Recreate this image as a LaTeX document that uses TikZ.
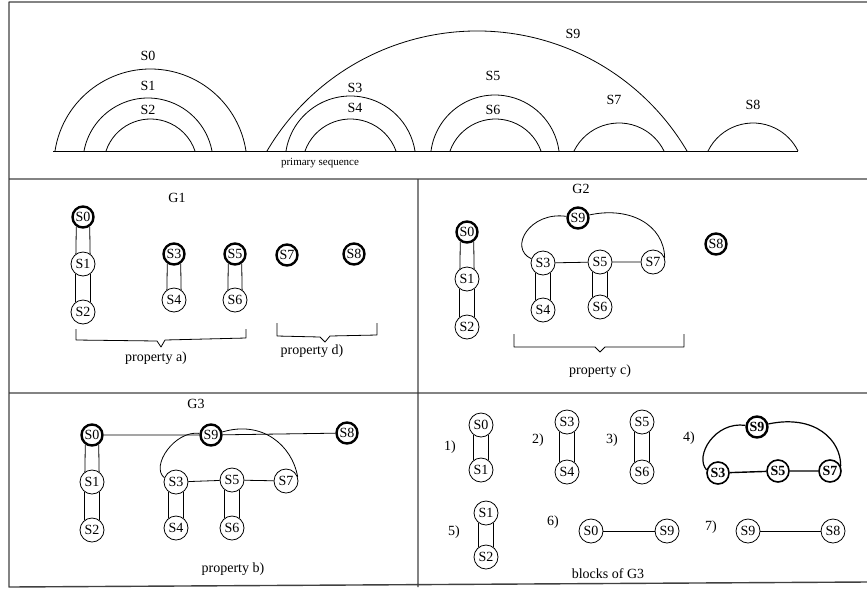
\documentclass[tikz,border=0pt]{standalone}
\usepackage{fontspec}
\setmainfont{Liberation Serif}
% two parallel strokes between two stacked nodes
\newcommand\twin[2]{\draw (#1.235) -- (#2.125) (#1.305) -- (#2.55);}
\begin{document}
\begin{tikzpicture}[x=1pt,y=-1pt,line join=round,line width=0.8pt,font=\fontsize{14}{16}\selectfont,
  st/.style={circle,draw,inner sep=0pt,minimum size=24pt},
  hub/.style={st,minimum size=21pt,line width=2.4pt},
  mid/.style={st,minimum size=22pt,line width=1.6pt,font=\fontsize{14}{16}\selectfont\bfseries}]
\useasboundingbox (0,0) rectangle (867,590);
% frame
\draw[line width=1.4pt,black!75] (867,2) -- (9,2) -- (9,587) -- (867,582)
  (9,179) -- (867,179) (9,393) -- (867,393) (418,179) -- (418,587);
% primary sequence
\draw (53,151) -- (798,151);
\node[font=\fontsize{11}{13}\selectfont] (seq) at (320,163) {primary sequence};
\foreach \cx/\a/\h/\lbl/\lx/\ly in {150.5/95.5/82/S0/148/56, 148/64/53/S1/148/86,
    150.5/44.5/32/S2/148/110, 477/210/120/S9/573/34, 350.5/64.5/55/S3/355/88,
    350.5/45.5/32/S4/355/108, 495/64/56/S5/493/76, 495.5/45.5/32/S6/493/110,
    619/45/28/S7/614/100, 753/45/28/S8/753/105}{
  \pgfmathsetmacro\R{(\a/\h*\a+\h)/2}
  \pgfmathsetmacro\al{asin((\R-\h)/\R)}
  \draw (\cx-\a,151) arc[start angle=180+\al,end angle=360-\al,radius=\R];
  \node at (\lx,\ly) {\lbl};
}
% G1
\node (g1) at (177,198) {G1};
\node[hub] (g1s0) at (83,217) {S0};
\node[st] (g1s1) at (83,264) {S1};
\node[st] (g1s2) at (83,312) {S2};
\node[hub] (g1s3) at (174,254) {S3};
\node[st] (g1s4) at (174,300) {S4};
\node[hub] (g1s5) at (235,254) {S5};
\node[st] (g1s6) at (235,300) {S6};
\node[hub] (g1s7) at (287,255) {S7};
\node[hub] (g1s8) at (354,254) {S8};
\twin{g1s0}{g1s1} \twin{g1s1}{g1s2} \twin{g1s3}{g1s4} \twin{g1s5}{g1s6}
\draw (76,329) -- (76,340) -- (157,341) -- (161,347) -- (165,340) -- (246,338) -- (246,329);
\node (pa) at (156,358) {property a)};
\draw (277,323) -- (277,336) -- (320,337) -- (325,342) -- (330,336) -- (377,335) -- (377,323);
\node (pd) at (312,351) {property d)};
% G2
\node (g2) at (581,189) {G2};
\node[hub] (g2s0) at (467,232) {S0};
\node[st] (g2s1) at (467,279) {S1};
\node[st] (g2s2) at (467,327) {S2};
\node[hub] (g2s9) at (578,218) {S9};
\node[st] (g2s3) at (543,263) {S3};
\node[st] (g2s5) at (600,262) {S5};
\node[st] (g2s7) at (653,262) {S7};
\node[st] (g2s4) at (543,310) {S4};
\node[st] (g2s6) at (600,307) {S6};
\node[hub] (g2s8) at (716,244) {S8};
\twin{g2s0}{g2s1} \twin{g2s1}{g2s2} \twin{g2s3}{g2s4} \twin{g2s5}{g2s6}
\draw (g2s3) -- (g2s5) -- (g2s7);
\draw (g2s9.172) .. controls (530,211) and (508,248) .. (g2s3.160);
\draw (g2s9.15) .. controls (630,206) and (664,225) .. (g2s7.20);
\draw (514,334) -- (514,347) -- (595,347) -- (600,352) -- (605,347) -- (684,347) -- (684,334);
\node (pc) at (600,371) {property c)};
% G3
\node (g3) at (196,404) {G3};
\node[hub] (g3s0) at (92,435) {S0};
\node[st] (g3s1) at (92,482) {S1};
\node[st] (g3s2) at (92,530) {S2};
\node[hub] (g3s9) at (211,435) {S9};
\node[hub] (g3s8) at (347,433) {S8};
\node[st] (g3s3) at (176,482) {S3};
\node[st] (g3s5) at (232,480) {S5};
\node[st] (g3s7) at (286,481) {S7};
\node[st] (g3s4) at (176,528) {S4};
\node[st] (g3s6) at (232,528) {S6};
\twin{g3s0}{g3s1} \twin{g3s1}{g3s2} \twin{g3s3}{g3s4} \twin{g3s5}{g3s6}
\draw (g3s0) -- (g3s9) -- (g3s8) (g3s3) -- (g3s5) -- (g3s7);
\draw (g3s9.172) .. controls (175,430) and (150,466) .. (g3s3.160);
\draw (g3s9.15) .. controls (262,420) and (292,445) .. (g3s7.20);
\node (pb) at (233,569) {property b)};
% blocks of G3
\node (b1) at (450,447) {1)};
\node[st] (b1s0) at (481,425) {S0};
\node[st] (b1s1) at (481,470) {S1};
\twin{b1s0}{b1s1}
\node (b2) at (538,440) {2)};
\node[st] (b2s3) at (567,422) {S3};
\node[st] (b2s4) at (567,472) {S4};
\twin{b2s3}{b2s4}
\node (b3) at (612,440) {3)};
\node[st] (b3s5) at (642,422) {S5};
\node[st] (b3s6) at (642,472) {S6};
\twin{b3s5}{b3s6}
\node (b4) at (689,438) {4)};
\node[hub,font=\fontsize{14}{16}\selectfont\bfseries] (b4s9) at (757,427) {S9};
\node[mid] (b4s3) at (718,473) {S3};
\node[mid] (b4s5) at (778,471) {S5};
\node[mid] (b4s7) at (830,471) {S7};
\draw[line width=1.4pt] (b4s3) -- (b4s5) -- (b4s7);
\draw[line width=1.2pt] (b4s9.172) .. controls (715,421) and (694,456) .. (b4s3.165)
  (b4s9.15) .. controls (815,414) and (841,440) .. (b4s7.25);
\node (b5) at (454,532) {5)};
\node[st] (b5s1) at (486,513) {S1};
\node[st] (b5s2) at (486,557) {S2};
\twin{b5s1}{b5s2}
\node (b6) at (553,522) {6)};
\node[st] (b6s0) at (591,531) {S0};
\node[st] (b6s9) at (667,531) {S9};
\draw (b6s0) -- (b6s9);
\node (b7) at (711,527) {7)};
\node[st] (b7s9) at (748,531) {S9};
\node[st] (b7s8) at (833,531) {S8};
\draw (b7s9) -- (b7s8);
\node (blk) at (608,574) {blocks of G3};
\end{tikzpicture}
\end{document}
